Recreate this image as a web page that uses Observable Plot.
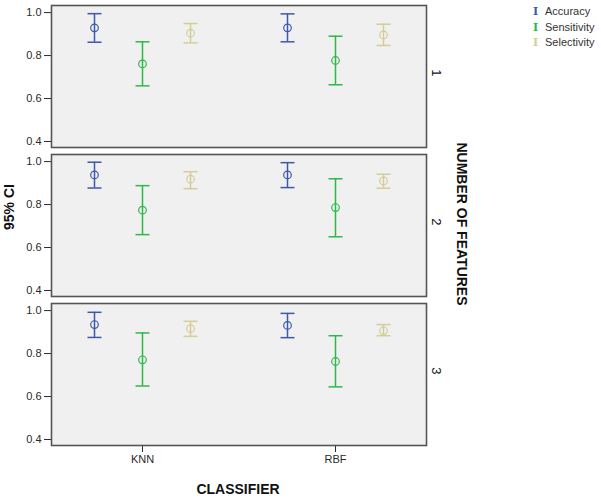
<!DOCTYPE html>
<html>
<head>
<meta charset="utf-8">
<script src="https://cdn.jsdelivr.net/npm/d3@7"></script>
<script src="https://cdn.jsdelivr.net/npm/@observablehq/plot@0.6"></script>
<style>
  html, body { margin: 0; padding: 0; background: #fff; }
  #wrap { position: relative; width: 601px; height: 498px; font-family: "Liberation Sans", Arial, sans-serif; }
  #chart { position: absolute; left: 0; top: 0; }
  .lab { position: absolute; font-weight: bold; font-size: 14px; color: #111; white-space: nowrap; }
  #legend { position: absolute; left: 533px; top: 4px; font-size: 11px; color: #333; line-height: 14.5px; }
  #legend .ic { font-family: "DejaVu Serif", serif; font-weight: bold; font-size: 11px; display: inline-block; width: 12px; }
</style>
</head>
<body>
<div id="wrap">
  <div id="chart"></div>
  <div class="lab" id="ylab" style="left:9px; top:207px; transform: translate(-50%,-50%) rotate(-90deg);">95% CI</div>
  <div class="lab" id="fylab" style="left:462px; top:224px; transform: translate(-50%,-50%) rotate(90deg);">NUMBER OF FEATURES</div>
  <div class="lab" id="xlab" style="left:238px; top:489px; transform: translate(-50%,-50%);">CLASSIFIER</div>
  <div id="legend"></div>
</div>
<script>
// ---- data ----
const classifiers = ["KNN", "RBF"];
const features = ["1", "2", "3"];
const seriesNames = ["Accuracy", "Sensitivity", "Selectivity"];
const yTicks = [0.4, 0.6, 0.8, 1.0];
// order of cells: [KNN-1, RBF-1, KNN-2, RBF-2, KNN-3, RBF-3]
const cellClassifier = ["KNN", "RBF", "KNN", "RBF", "KNN", "RBF"];
const cellFeature = ["1", "1", "2", "2", "3", "3"];
const accuracyMean = [0.929, 0.929, 0.938, 0.938, 0.935, 0.931];
const accuracyLow  = [0.862, 0.864, 0.877, 0.879, 0.875, 0.874];
const accuracyHigh = [0.995, 0.994, 0.997, 0.995, 0.992, 0.987];
const sensitivityMean = [0.761, 0.777, 0.774, 0.786, 0.771, 0.763];
const sensitivityLow  = [0.659, 0.664, 0.660, 0.650, 0.649, 0.645];
const sensitivityHigh = [0.864, 0.890, 0.888, 0.920, 0.896, 0.883];
const selectivityMean = [0.904, 0.896, 0.918, 0.910, 0.916, 0.906];
const selectivityLow  = [0.859, 0.847, 0.874, 0.876, 0.880, 0.883];
const selectivityHigh = [0.949, 0.946, 0.953, 0.941, 0.950, 0.935];

// ---- styles ----
const colors = {Accuracy: "#3E58AC", Sensitivity: "#2EB848", Selectivity: "#D3CE97"};
const offsets = {Accuracy: -48, Sensitivity: 0, Selectivity: 48};
const capHalfWidth = 7;
const capSymbol = {draw(ctx) { ctx.moveTo(-capHalfWidth, 0); ctx.lineTo(capHalfWidth, 0); }};

const seriesData = {
  Accuracy: [accuracyMean, accuracyLow, accuracyHigh],
  Sensitivity: [sensitivityMean, sensitivityLow, sensitivityHigh],
  Selectivity: [selectivityMean, selectivityLow, selectivityHigh]
};

function rows(name) {
  const [m, lo, hi] = seriesData[name];
  return cellClassifier.map((c, i) => ({classifier: c, feature: cellFeature[i], series: name, mean: m[i], low: lo[i], high: hi[i]}));
}

const marks = [
  Plot.frame({fill: "#f0f0f0", stroke: "#555", strokeWidth: 1.6})
];
for (const s of seriesNames) {
  const d = rows(s);
  const c = colors[s], dx = offsets[s];
  marks.push(
    Plot.ruleX(d, {x: "classifier", y1: "low", y2: "high", fy: "feature", stroke: c, strokeWidth: 1.5, dx}),
    Plot.dot(d, {x: "classifier", y: "low", fy: "feature", symbol: capSymbol, stroke: c, fill: "none", strokeWidth: 1.5, dx}),
    Plot.dot(d, {x: "classifier", y: "high", fy: "feature", symbol: capSymbol, stroke: c, fill: "none", strokeWidth: 1.5, dx}),
    Plot.dot(d, {x: "classifier", y: "mean", fy: "feature", stroke: c, fill: "none", r: 3.8, strokeWidth: 1.2, dx})
  );
}
marks.push(
  Plot.text(features, {fy: d => d, text: d => d, frameAnchor: "right", dx: 10, rotate: 90, fontSize: 13, fill: "#111"})
);

const chart = Plot.plot({
  width: 601,
  height: 498,
  marginLeft: 51,
  marginRight: 175,
  marginTop: 4,
  marginBottom: 53,
  style: {fontFamily: "Liberation Sans, Arial, sans-serif", fontSize: "11px", color: "#2a2a2a", background: "transparent"},
  x: {type: "point", domain: classifiers, padding: 0.47, tickSize: 7, tickPadding: 3, label: null, axis: "bottom"},
  y: {domain: [0.372, 1.033], ticks: yTicks, tickFormat: ".1f", tickSize: 7, tickPadding: 3, label: null},
  fy: {domain: features, axis: null, label: null, paddingInner: 0.05, paddingOuter: 0},
  marks
});
document.getElementById("chart").appendChild(chart);

const legend = document.getElementById("legend");
for (const s of seriesNames) {
  const row = document.createElement("div");
  const ic = document.createElement("span");
  ic.className = "ic";
  ic.style.color = colors[s];
  ic.textContent = "I";
  row.appendChild(ic);
  row.appendChild(document.createTextNode(s));
  legend.appendChild(row);
}
</script>
</body>
</html>
